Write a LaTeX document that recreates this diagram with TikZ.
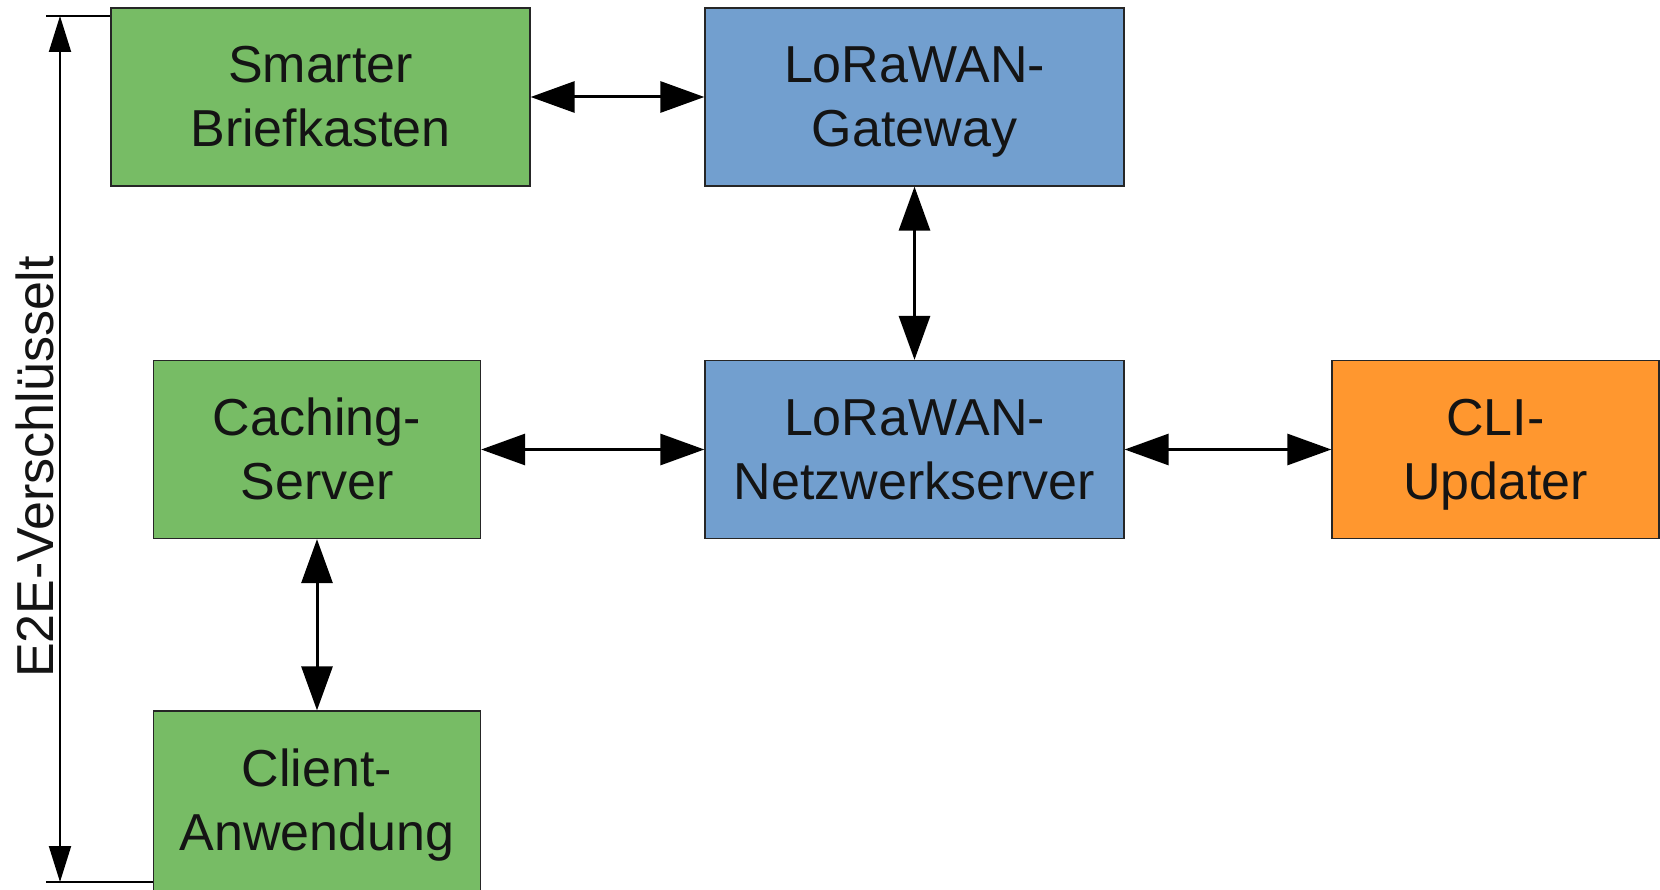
\documentclass[tikz,border=0pt]{standalone}
\usepackage{fontspec}
\setmainfont{Liberation Sans}
\usetikzlibrary{arrows.meta}
\definecolor{cgreen}{HTML}{77BC65}
\definecolor{cblue}{HTML}{729FCF}
\definecolor{corange}{HTML}{FF972F}
\newcommand\bs{\rule[-13pt]{0pt}{62pt}}
\begin{document}
\begin{tikzpicture}[x=1pt,y=-1pt,
  box/.style={draw=black!85, line width=1.3pt, inner sep=0pt, align=center,
    minimum height=178pt, text=black!92,
    font=\fontsize{52}{64}\selectfont},
  widebox/.style={box, minimum width=419pt},
  narrowbox/.style={box, minimum width=327pt},
  biarrow/.style={line width=3pt,
    {Triangle[length=44pt,width=31pt]}-{Triangle[length=44pt,width=31pt]}},
  dimarrow/.style={line width=2pt,
    {Triangle[length=36pt,width=22pt]}-{Triangle[length=36pt,width=22pt]}},
  tick/.style={line width=2.5pt}
]
\useasboundingbox (0,0) rectangle (1660,890);
\node[widebox, fill=cgreen] (sb) at (320.5,97) {\bs Smarter\\\bs Briefkasten};
\node[widebox, fill=cblue] (gw) at (914.5,97) {\bs LoRaWAN-\\\bs Gateway};
\node[narrowbox, fill=cgreen] (cs) at (317,449.5) {\bs Caching-\\\bs Server};
\node[widebox, fill=cblue] (ns) at (914.5,449.5) {\bs LoRaWAN-\\\bs Netzwerkserver};
\node[narrowbox, fill=corange] (cli) at (1495.5,449.5) {\bs CLI-\\\bs Updater};
\node[narrowbox, fill=cgreen, minimum height=186pt] (ca) at (317,804) {\bs Client-\\\bs Anwendung\vspace{7pt}};

\draw[biarrow] (sb.east) -- (gw.west);
\draw[biarrow] (gw.south) -- (ns.north);
\draw[biarrow] (cs.east) -- (ns.west);
\draw[biarrow] (ns.east) -- (cli.west);
\draw[biarrow] (cs.south) -- (ca.north);

\coordinate (tl) at (46,16);
\coordinate (bl) at (46,882);
\coordinate (dt) at (60,16);
\coordinate (db) at (60,882);
\draw[tick] (tl) -- (tl -| sb.west);
\draw[tick] (bl) -- (bl -| ca.west);
\draw[dimarrow] (dt) -- (db);
\node[rotate=90, anchor=base, inner sep=0pt, text=black!92,
  font=\fontsize{52}{64}\selectfont] (lbl) at (53,467) {E2E-Verschlüsselt};
\end{tikzpicture}
\end{document}
